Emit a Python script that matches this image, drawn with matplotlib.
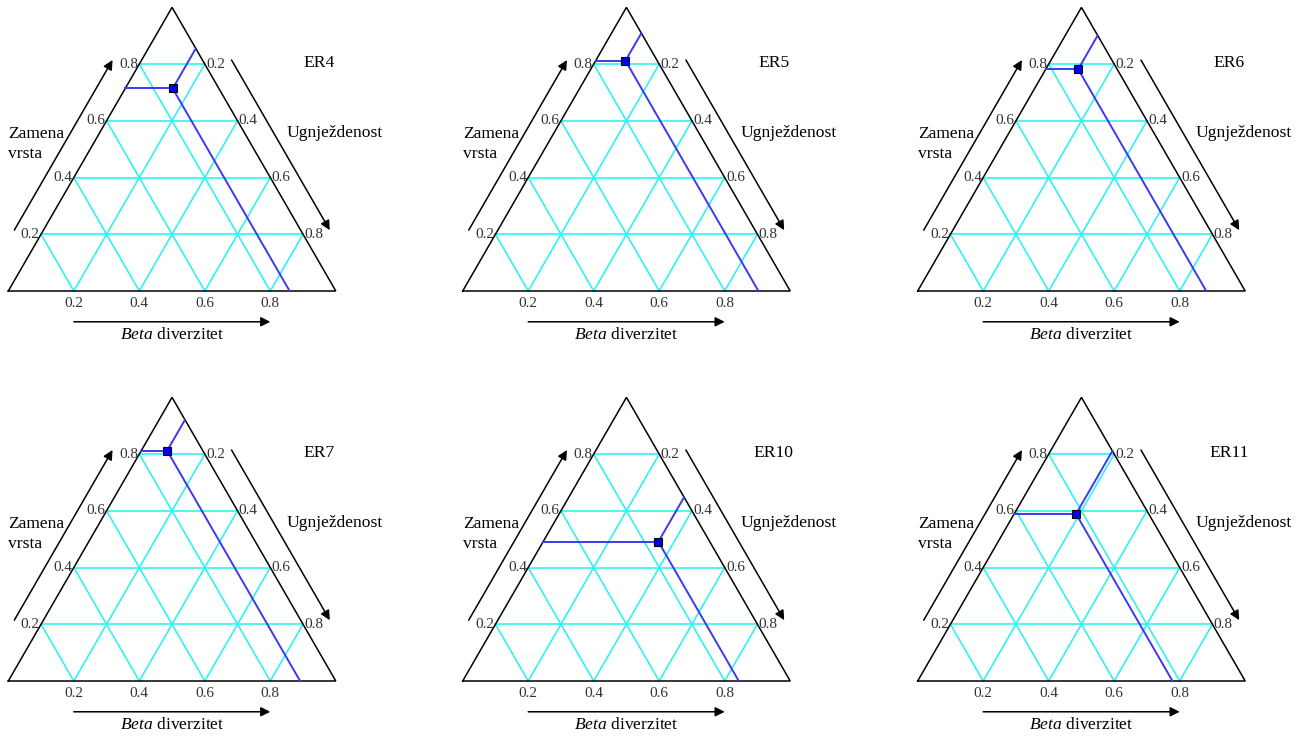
import numpy as np
import matplotlib
matplotlib.use("Agg")
import matplotlib.pyplot as plt

# Beta diversity partition per region: species replacement and nestedness
# (total beta = replacement + nestedness)
regions = ["ER4", "ER5", "ER6", "ER7", "ER10", "ER11"]
replacement = [0.714, 0.812, 0.782, 0.812, 0.491, 0.589]
nestedness = [0.145, 0.091, 0.099, 0.079, 0.352, 0.189]

grid_levels = [0.2, 0.4, 0.6, 0.8]
tick_labels = ["0.2", "0.4", "0.6", "0.8"]

H = np.sqrt(3) / 2
FIG_W, FIG_H = 1307, 740
SCALE = 327.5                      # pixels per unit of triangle base
ORIGINS = [(8.3, 291), (462.7, 291), (917.7, 291),
           (8.3, 681), (462.7, 681), (917.7, 681)]   # bottom-left vertex, image px
XMIN, XMAX, YMIN, YMAX = -0.03, 1.2, -0.2, 0.9

plt.rcParams["font.family"] = ["Liberation Serif", "DejaVu Serif"]
plt.rcParams["mathtext.fontset"] = "custom"
plt.rcParams["mathtext.rm"] = "Liberation Serif"
plt.rcParams["mathtext.it"] = "Liberation Serif:italic"

GRID_C = "#30f2f2"
LINE_C = "#3a3af0"
TICK_FS = 11
LAB_FS = 12.6


def to_xy(r, n):
    """Ternary (replacement, nestedness) -> cartesian inside unit triangle."""
    return n + 0.5 * r, r * H


def arrow(ax, start, end):
    ax.annotate("", xy=end, xytext=start,
                arrowprops=dict(arrowstyle="-|>", color="black", lw=1.1,
                                mutation_scale=14, shrinkA=0, shrinkB=0))


def draw_panel(ax, name, r, n):
    # grid
    for v in grid_levels:
        ax.plot([v / 2, 1 - v / 2], [v * H, v * H], color=GRID_C, lw=1.2, zorder=1)
        ax.plot([v, v / 2], [0, v * H], color=GRID_C, lw=1.2, zorder=1)
        ax.plot([v, (1 + v) / 2], [0, (1 - v) * H], color=GRID_C, lw=1.2, zorder=1)

    # outline
    ax.plot([0, 1, 0.5, 0], [0, 0, H, 0], color="black", lw=1.1, zorder=2,
            solid_joinstyle="miter")

    # tick labels
    for v, lab in zip(grid_levels, tick_labels):
        ax.text(v, -0.038, lab, ha="center", va="center", fontsize=TICK_FS, color="#333333")
        ax.text(v / 2 - 0.004, v * H, lab, ha="right", va="center", fontsize=TICK_FS,
                color="#333333")
    for v in grid_levels:
        ax.text(1 - v / 2 + 0.004, v * H, f"{1 - v:.1f}", ha="left", va="center",
                fontsize=TICK_FS, color="#333333")

    # direction arrows, offset outward from the edges
    off = 0.077
    nl = np.array([-H, 0.5])
    nr = np.array([H, 0.5])
    arrow(ax, np.array([0.17 / 2, 0.17 * H]) + off * nl,
          np.array([0.77 / 2, 0.77 * H]) + off * nl)
    arrow(ax, np.array([0.5 + 0.23 / 2, 0.77 * H]) + off * nr,
          np.array([0.5 + 0.83 / 2, 0.17 * H]) + off * nr)
    arrow(ax, (0.2, -0.094), (0.8, -0.094))

    # axis titles
    ax.text(0.0, 0.45, "Zamena\nvrsta", ha="left", va="center", fontsize=LAB_FS,
            linespacing=1.35)
    ax.text(0.85, 0.481, "Ugnježdenost", ha="left", va="center", fontsize=LAB_FS)
    ax.text(0.5, -0.134, r"$\it{Beta}$ diverzitet", ha="center", va="center",
            fontsize=LAB_FS)
    ax.text(0.95, 0.695, name, ha="center", va="center", fontsize=LAB_FS)

    # region point and its reading lines
    x, y = to_xy(r, n)
    beta = r + n
    s = 1 - n                       # height fraction where nestedness line hits right edge
    ax.plot([r / 2, x], [y, y], color=LINE_C, lw=1.4, zorder=3)
    ax.plot([x, beta], [y, 0], color=LINE_C, lw=1.4, zorder=3)
    ax.plot([x, 0.5 + (1 - s) / 2], [y, s * H], color=LINE_C, lw=1.4, zorder=3)
    ax.plot([x], [y], marker="s", ms=6, mfc="#0000ee", mec="black", mew=0.8, zorder=4)


fig = plt.figure(figsize=(FIG_W / 100, FIG_H / 100), dpi=100)
for (px, py), name, r, n in zip(ORIGINS, regions, replacement, nestedness):
    left = (px + XMIN * SCALE) / FIG_W
    bottom = (FIG_H - py + YMIN * SCALE) / FIG_H
    w = (XMAX - XMIN) * SCALE / FIG_W
    h = (YMAX - YMIN) * SCALE / FIG_H
    ax = fig.add_axes([left, bottom, w, h])
    ax.set_xlim(XMIN, XMAX)
    ax.set_ylim(YMIN, YMAX)
    ax.axis("off")
    draw_panel(ax, name, r, n)

fig.savefig("out.png", dpi=100, facecolor="white")
